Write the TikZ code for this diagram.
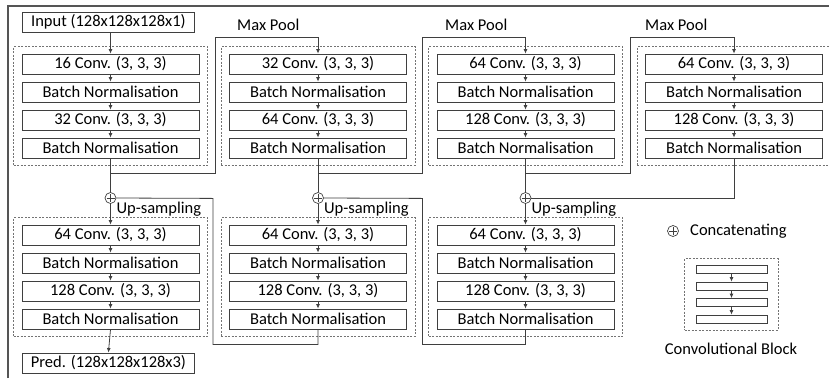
\documentclass[tikz,border=0pt]{standalone}
\usepackage{fontspec}
\setmainfont{Carlito}
\usetikzlibrary{positioning,fit,calc,arrows.meta}
\definecolor{LINE}{HTML}{3F3F3F}
\definecolor{FRAME}{HTML}{555555}

\begin{document}
\begin{tikzpicture}[x=1pt,y=-1pt,draw=LINE,font=\fontsize{16.5}{18}\selectfont]
\tikzstyle{myEdge}=[draw=LINE,>={Latex[length=4.5pt,width=4pt]},line width=0.8pt]
\tikzstyle{layer}=[draw=LINE,line width=0.8pt,minimum width=177pt,minimum height=20pt,inner sep=0pt]
\tikzstyle{ioBox}=[layer,minimum width=172pt,anchor=west]
\tikzstyle{convBlock}=[draw=black!55,line width=0.6pt,dash pattern=on 2pt off 1.5pt,inner xsep=8pt,inner ysep=7pt]
\tikzstyle{concat}=[circle,draw=LINE,line width=0.7pt,minimum size=11pt,inner sep=0pt,
  path picture={\draw[LINE,line width=0.6pt]
    ([yshift=-1.5pt]path picture bounding box.north) -- ([yshift=1.5pt]path picture bounding box.south)
    ([xshift=1.5pt]path picture bounding box.west) -- ([xshift=-1.5pt]path picture bounding box.east);}]
\tikzstyle{annot}=[anchor=west,inner sep=0pt]
\tikzstyle{keyLayer}=[draw=LINE,line width=0.7pt,minimum width=71pt,minimum height=8pt,inner sep=0pt]

\useasboundingbox (0,0) rectangle (829,378);

\newcommand{\convcolumn}[5]{
\foreach \lab [count=\y] in {{#4 Conv. (3, 3, 3)},Batch Normalisation,{#5 Conv. (3, 3, 3)},Batch Normalisation}
    \node[layer] (#1\y) at (#2,{#3+28*(\y-1)}) {\lab};
\foreach \y/\z in {1/2,2/3,3/4}
    \draw[myEdge,->] (#1\y) -- (#1\z);
\node[convBlock,fit=(#11) (#14)] (#1Block) {};
}

% frame
\draw[FRAME,line width=2.2pt] (8,378) -- (8,6) -- (829,6);

% encoder
\convcolumn{enc1}{110.5}{64}{16}{32}
\convcolumn{enc2}{318}{64}{32}{64}
\convcolumn{enc3}{525.5}{64}{64}{128}
\convcolumn{enc4}{734}{64}{64}{128}

% decoder
\convcolumn{dec1}{110.5}{235}{64}{128}
\convcolumn{dec2}{318}{235}{64}{128}
\convcolumn{dec3}{525.5}{235}{64}{128}

\node[ioBox] (input) at (22,22) {Input (128x128x128x1)};
\node[ioBox] (pred) at (22,363) {Pred. (128x128x128x3)};
\draw[myEdge,->] (input.south -| enc11.north) -- (enc11.north);
\draw[myEdge,->] (dec14.south) -- (pred.north);

% max pool
\foreach \a/\b/\lx in {1/2/237,2/3/445,3/4/645}{
    \draw[myEdge,->] (enc\a4.south) -- ++(0,15) -| ++(104.5,-136) -| (enc\b1.north);
    \node[annot] (maxpool\a) at (\lx,25) {Max Pool};
}

% up-sampling and concatenation
\foreach \i in {1,2,3}{
    \node[concat] (cat\i) at (enc\i4.south |- 0,198) {};
    \draw[myEdge] (enc\i4.south) -- (cat\i.north);
    \draw[myEdge,->] (cat\i.south) -- (dec\i1.north);
    \node[annot] (up\i) at ([shift={(0,11)}]cat\i.east) {Up-sampling};
}
\draw[myEdge] (enc44.south) |- (cat3.east);
\draw[myEdge] (dec24.south) -- ++(0,15) -| ++(-105,-146) -- (cat1.east);
\draw[myEdge] (dec34.south) -- ++(0,15) -| ++(-103,-146) -- (cat2.east);

% legend
\node[concat] (catKey) at (673,231) {};
\node[annot] (catText) at (690,231) {Concatenating};
\foreach \y in {1,...,4}
    \node[keyLayer] (key\y) at (731.5,{269.5+16.5*(\y-1)}) {};
\foreach \y/\z in {1/2,2/3,3/4}
    \draw[myEdge,->] (key\y) -- (key\z);
\node[convBlock,fit=(key1) (key4),inner xsep=11pt,inner ysep=6.5pt] (keyBlock) {};
\node (keyText) at (731,349) {Convolutional Block};
\end{tikzpicture}
\end{document}
